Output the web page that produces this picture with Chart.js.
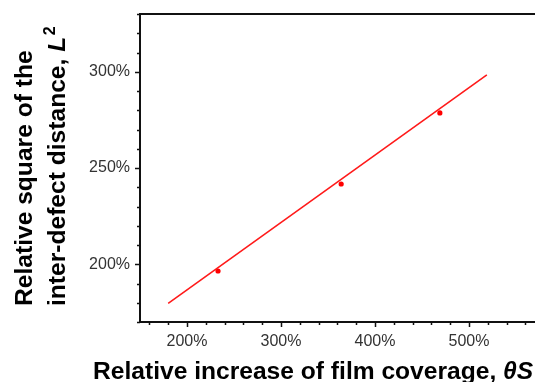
<!DOCTYPE html>
<html>
<head>
<meta charset="utf-8">
<script src="https://cdn.jsdelivr.net/npm/chart.js@4"></script>
<style>
  html, body { margin: 0; padding: 0; background: #fff; overflow: hidden; }
  #wrap { width: 575px; height: 382px; position: relative; }
</style>
</head>
<body>
<div id="wrap"><canvas id="chart"></canvas></div>
<script>
// Measured samples: relative film coverage vs relative squared inter-defect distance (%)
const coverage = [233, 364, 469];
const distanceSq = [196.5, 241.7, 278.6];

// Linear fit drawn across the sampled range
const fitCoverage = [180, 519];
const fitDistanceSq = [179.7, 298.4];

// Axis labels
const xTickValues = [200, 300, 400, 500];
const yTickValues = [200, 250, 300];

const FONT = "'Liberation Sans', Arial, Helvetica, sans-serif";
const TITLE_SIZE = 24.6;

// Frame, outward major/minor tick marks and mixed-style axis titles
const frameAndTitles = {
  id: 'frameAndTitles',
  afterDraw(chart) {
    const { ctx, chartArea: a, scales: { x, y } } = chart;
    ctx.save();
    ctx.strokeStyle = '#111';
    ctx.lineWidth = 2;
    ctx.strokeRect(a.left, a.top, a.right - a.left, a.bottom - a.top);

    ctx.lineWidth = 1.5;
    ctx.beginPath();
    for (let v = 170; v <= 330; v += 10) {
      const py = Math.round(y.getPixelForValue(v)) + 0.5;
      const len = v % 50 === 0 ? 5 : 3;
      ctx.moveTo(a.left, py);
      ctx.lineTo(a.left - len, py);
    }
    for (let v = 160; v <= 600; v += 20) {
      const px = Math.round(x.getPixelForValue(v)) + 0.5;
      const len = v % 100 === 0 ? 5 : 3;
      ctx.moveTo(px, a.bottom);
      ctx.lineTo(px, a.bottom + len);
    }
    ctx.stroke();

    ctx.fillStyle = '#000';
    ctx.textBaseline = 'alphabetic';
    ctx.textAlign = 'left';

    // x title
    const xt = 'Relative increase of film coverage, ';
    ctx.font = 'bold ' + TITLE_SIZE + 'px ' + FONT;
    let tx = 93;
    ctx.fillText(xt, tx, 379);
    tx += ctx.measureText(xt).width;
    ctx.font = 'italic bold ' + TITLE_SIZE + 'px ' + FONT;
    ctx.fillText('θS', tx, 379);

    // y title, two lines reading upward
    ctx.translate(0, 306);
    ctx.rotate(-Math.PI / 2);
    ctx.font = 'bold ' + TITLE_SIZE + 'px ' + FONT;
    ctx.fillText('Relative square of the', 0, 32);
    const yt = 'inter-defect distance, ';
    ctx.fillText(yt, 0, 65);
    let ty = ctx.measureText(yt).width;
    ctx.font = 'italic bold ' + TITLE_SIZE + 'px ' + FONT;
    ctx.fillText('L', ty, 65);
    ty += ctx.measureText('L').width + 1.5;
    ctx.font = 'bold 16px ' + FONT;
    ctx.fillText('2', ty, 55);
    ctx.restore();
  }
};

new Chart(document.getElementById('chart'), {
  type: 'scatter',
  data: {
    datasets: [
      {
        label: 'fit',
        data: fitCoverage.map((c, i) => ({ x: c, y: fitDistanceSq[i] })),
        showLine: true,
        borderColor: '#ff1a1a',
        borderWidth: 1.6,
        pointRadius: 0,
        fill: false
      },
      {
        label: 'samples',
        data: coverage.map((c, i) => ({ x: c, y: distanceSq[i] })),
        backgroundColor: '#ff0000',
        borderColor: '#ff0000',
        pointRadius: 2.6,
        borderWidth: 0
      }
    ]
  },
  options: {
    responsive: true,
    maintainAspectRatio: false,
    animation: false,
    layout: { padding: { top: 14, left: 0, right: 12, bottom: 0 } },
    plugins: { legend: { display: false }, tooltip: { enabled: false } },
    scales: {
      x: {
        type: 'linear',
        min: 150,
        max: 600,
        grid: { display: false, drawTicks: false },
        border: { display: false },
        afterBuildTicks(s) { s.ticks = xTickValues.map(v => ({ value: v })); },
        afterFit(s) { s.height = 60; s.paddingLeft = 0; s.paddingRight = 0; },
        ticks: {
          padding: 10,
          color: '#333',
          font: { family: FONT, size: 16 },
          callback: v => v + '%'
        }
      },
      y: {
        type: 'linear',
        min: 170,
        max: 330,
        grid: { display: false, drawTicks: false },
        border: { display: false },
        afterBuildTicks(s) { s.ticks = yTickValues.map(v => ({ value: v })); },
        afterFit(s) { s.width = 140; s.paddingTop = 0; s.paddingBottom = 0; },
        ticks: {
          padding: 10,
          color: '#333',
          font: { family: FONT, size: 16 },
          callback: v => v + '%'
        }
      }
    }
  },
  plugins: [frameAndTitles]
});
</script>
</body>
</html>
